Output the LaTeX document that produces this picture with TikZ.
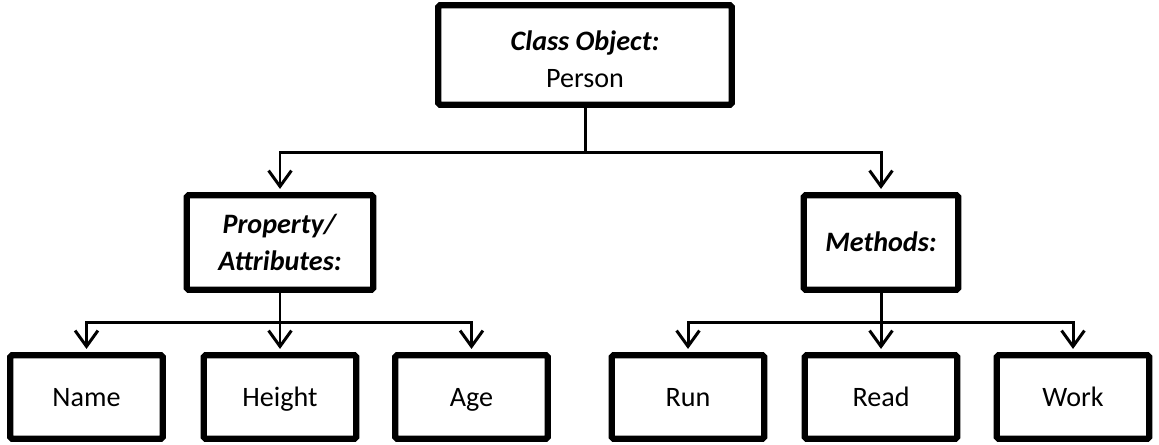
\documentclass[tikz,border=0pt]{standalone}
\usepackage{fontspec}
\setmainfont{Carlito}
\usetikzlibrary{arrows.meta,positioning}

\begin{document}
\begin{tikzpicture}[x=0.02cm,y=-0.02cm,every node/.style={font=\fontsize{16}{21}\selectfont},
  box/.style={draw,line width=3.6pt,rounded corners=1pt,inner sep=0pt,align=center,text depth=0pt},
  leaf/.style={box,minimum width=3.05cm,minimum height=1.67cm,text height=10.3pt},
  link/.style={line width=1.7pt,-{Straight Barb[length=9pt,width=13pt,line width=1.7pt]},shorten >=1.8pt}]
\useasboundingbox (0,0) rectangle (1159,444);
\node[box,minimum width=5.87cm,minimum height=1.99cm,text height=37pt] (cls) at (585,55) {\textbf{\textit{Class Object:}}\\Person};
\node[box,minimum width=3.73cm,minimum height=1.89cm,text height=31.3pt] (prop) at (280,242.5) {\textbf{\textit{Property/}}\\\textbf{\textit{Attributes:}}};
\node[box,minimum width=3.09cm,minimum height=1.89cm,text height=10.3pt] (meth) at (881,242.5) {\textbf{\textit{Methods:}}};
\node[leaf] (name) at (86.5,397) {Name};
\node[leaf] (height) at (280,397) {Height};
\node[leaf] (age) at (471.5,397) {Age};
\node[leaf] (run) at (688,397) {Run};
\node[leaf] (read) at (881,397) {Read};
\node[leaf] (work) at (1073,397) {Work};
\coordinate (j0) at (585,152);
\coordinate (j1) at (280,322);
\coordinate (j2) at (881,322);
\draw[link] (cls.south) -- (j0) -| (prop.north);
\draw[link] (j0) -| (meth.north);
\draw[link] (prop.south) -- (height.north);
\draw[link] (j1) -| (name.north);
\draw[link] (j1) -| (age.north);
\draw[link] (meth.south) -- (read.north);
\draw[link] (j2) -| (run.north);
\draw[link] (j2) -| (work.north);
\end{tikzpicture}
\end{document}
